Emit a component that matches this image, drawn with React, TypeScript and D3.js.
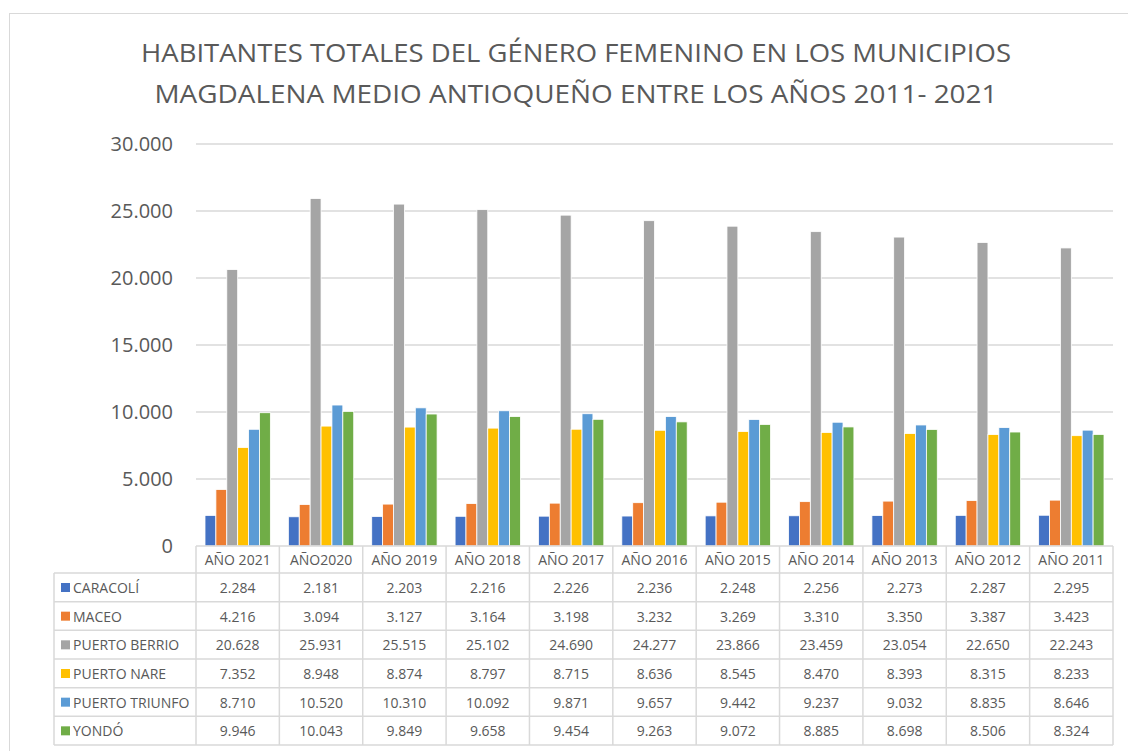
import React from "react";
import * as d3 from "d3";

const categories = ["AÑO 2021", "AÑO2020", "AÑO 2019", "AÑO 2018", "AÑO 2017", "AÑO 2016", "AÑO 2015", "AÑO 2014", "AÑO 2013", "AÑO 2012", "AÑO 2011"];
const seriesNames = ["CARACOLÍ", "MACEO", "PUERTO BERRIO", "PUERTO NARE", "PUERTO TRIUNFO", "YONDÓ"];
const caracoli = [2284, 2181, 2203, 2216, 2226, 2236, 2248, 2256, 2273, 2287, 2295];
const maceo = [4216, 3094, 3127, 3164, 3198, 3232, 3269, 3310, 3350, 3387, 3423];
const puertoBerrio = [20628, 25931, 25515, 25102, 24690, 24277, 23866, 23459, 23054, 22650, 22243];
const puertoNare = [7352, 8948, 8874, 8797, 8715, 8636, 8545, 8470, 8393, 8315, 8233];
const puertoTriunfo = [8710, 10520, 10310, 10092, 9871, 9657, 9442, 9237, 9032, 8835, 8646];
const yondo = [9946, 10043, 9849, 9658, 9454, 9263, 9072, 8885, 8698, 8506, 8324];
const seriesValues = [caracoli, maceo, puertoBerrio, puertoNare, puertoTriunfo, yondo];
const colors = ["#4472C4", "#ED7D31", "#A5A5A5", "#FFC000", "#5B9BD5", "#70AD47"];
const yTicks = [0, 5000, 10000, 15000, 20000, 25000, 30000];
const titleLines = [
  "HABITANTES TOTALES DEL GÉNERO FEMENINO EN LOS MUNICIPIOS",
  "MAGDALENA MEDIO ANTIOQUEÑO ENTRE LOS AÑOS 2011- 2021",
];

const FONT = "'Open Sans', 'Noto Sans', sans-serif";
const fmt = (v: number) => d3.format(",")(v).replace(/,/g, ".");

export default function App() {
  const W = 1128, H = 751;
  const left = 196, right = 1113, top = 144, bottom = 546;
  const x = d3.scaleBand<string>().domain(categories).range([left, right]).padding(0);
  const bw = x.bandwidth();
  const inner = d3.scaleBand<number>().domain(d3.range(seriesNames.length)).range([9, bw - 9]).padding(0);
  const y = d3.scaleLinear().domain([0, 30000]).range([bottom, top]);
  const rowTop = 573;
  const rowH = (745 - 573) / 6;
  const tableLeft = 54;
  const grid = "#d9d9d9";
  const textCol = "#595959";
  const tableFont = 14;

  return (
    <svg width={W} height={H} style={{ position: "absolute", left: 0, top: 0, fontFamily: FONT }}>
      <rect x={0} y={0} width={W} height={H} fill="#fff" />
      <rect x={9.5} y={13.5} width={W + 10} height={H + 10} fill="none" stroke="#d9d9d9" strokeWidth={1} />
      {titleLines.map((t, i) => (
        <text key={i} x={576} y={62 + i * 41} textAnchor="middle" fontSize={26} fill={textCol}
          textLength={i === 0 ? 870 : 843} lengthAdjust="spacingAndGlyphs">{t}</text>
      ))}
      {yTicks.map((t) => (
        <g key={t}>
          {t > 0 && <line x1={left} x2={right} y1={y(t)} y2={y(t)} stroke={grid} strokeWidth={1.3} />}
          <text x={173} y={y(t) + 7} textAnchor="end" fontSize={20} fill={textCol}>{fmt(t)}</text>
        </g>
      ))}
      {categories.map((c, ci) => (
        <g key={c}>
          {seriesValues.map((vals, si) => (
            <rect key={si} x={(x(c) as number) + (inner(si) as number)} y={y(vals[ci])}
              width={inner.bandwidth()} height={bottom - y(vals[ci])} fill={colors[si]}
              stroke="#fff" strokeWidth={0.8} />
          ))}
        </g>
      ))}
      <line x1={left} x2={right} y1={bottom} y2={bottom} stroke={grid} strokeWidth={1.5} />
      {d3.range(7).map((r) => (
        <line key={r} x1={tableLeft} x2={right} y1={rowTop + r * rowH} y2={rowTop + r * rowH} stroke={grid} strokeWidth={1.5} />
      ))}
      <line x1={tableLeft} x2={tableLeft} y1={rowTop} y2={rowTop + 6 * rowH} stroke={grid} strokeWidth={1.5} />
      {categories.map((c) => (
        <line key={c} x1={x(c) as number} x2={x(c) as number} y1={bottom} y2={rowTop + 6 * rowH} stroke={grid} strokeWidth={1.5} />
      ))}
      <line x1={right} x2={right} y1={bottom} y2={rowTop + 6 * rowH} stroke={grid} strokeWidth={1.5} />
      {categories.map((c) => (
        <text key={c} x={(x(c) as number) + bw / 2} y={bottom + 19} textAnchor="middle" fontSize={tableFont} fill={textCol}>{c}</text>
      ))}
      {seriesNames.map((n, si) => (
        <g key={n}>
          <rect x={61} y={rowTop + si * rowH + 10} width={9} height={9} fill={colors[si]} />
          <text x={73} y={rowTop + si * rowH + 20} fontSize={tableFont} fill={textCol}>{n}</text>
          {categories.map((c, ci) => (
            <text key={c} x={(x(c) as number) + bw / 2} y={rowTop + si * rowH + 20} textAnchor="middle" fontSize={tableFont} fill={textCol}>
              {fmt(seriesValues[si][ci])}
            </text>
          ))}
        </g>
      ))}
    </svg>
  );
}
